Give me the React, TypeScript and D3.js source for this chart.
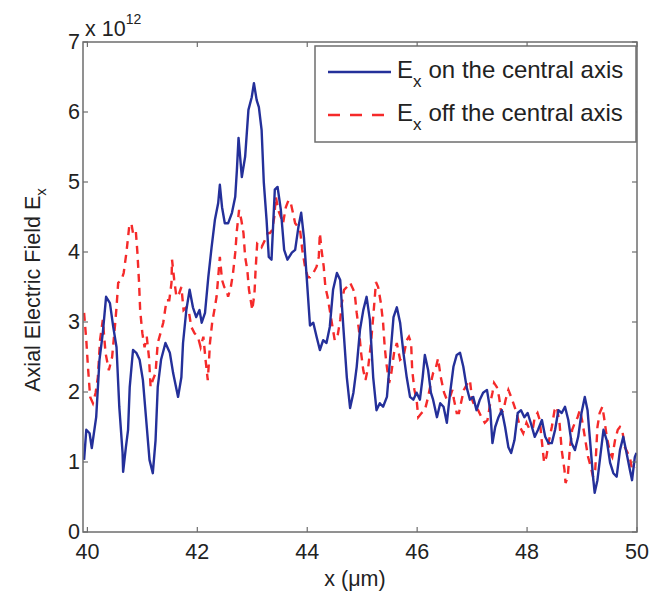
import React from "react";
import * as d3 from "d3";

// on-axis field (blue, solid) – x in µm, y in units of 1e12
const onX = [39.94,39.98,40.04,40.08,40.16,40.22,40.28,40.34,40.41,40.47,40.53,40.58,40.64,40.65,40.70,40.74,40.77,40.83,40.89,40.95,41.01,41.07,41.13,41.19,41.24,41.28,41.34,41.42,41.50,41.56,41.65,41.71,41.74,41.80,41.86,41.92,41.98,42.04,42.08,42.14,42.20,42.26,42.32,42.38,42.41,42.45,42.50,42.56,42.63,42.69,42.72,42.75,42.81,42.87,42.93,42.99,43.03,43.08,43.12,43.17,43.21,43.26,43.30,43.35,43.41,43.46,43.52,43.58,43.64,43.72,43.78,43.84,43.89,43.94,43.99,44.05,44.11,44.17,44.23,44.29,44.35,44.41,44.47,44.54,44.60,44.66,44.72,44.78,44.84,44.90,44.96,45.02,45.08,45.14,45.20,45.26,45.32,45.38,45.45,45.51,45.57,45.63,45.69,45.75,45.81,45.87,45.93,45.99,46.05,46.10,46.14,46.20,46.25,46.29,46.36,46.42,46.48,46.54,46.60,46.66,46.72,46.78,46.84,46.90,46.96,47.02,47.08,47.14,47.20,47.27,47.33,47.37,47.42,47.48,47.54,47.60,47.66,47.71,47.77,47.83,47.89,47.95,48.01,48.07,48.14,48.20,48.27,48.33,48.39,48.45,48.51,48.57,48.63,48.69,48.75,48.81,48.87,48.93,48.99,49.05,49.10,49.14,49.20,49.23,49.28,49.33,49.39,49.45,49.51,49.57,49.63,49.69,49.75,49.81,49.87,49.91,49.96,49.99];
const onY = [1.03,1.46,1.41,1.2,1.64,2.46,2.84,3.36,3.27,2.93,2.64,1.79,1.13,0.86,1.21,1.46,2.07,2.6,2.56,2.46,2.17,1.6,1.03,0.84,1.31,2.07,2.46,2.7,2.56,2.27,1.93,2.21,2.7,3.17,3.46,3.21,3.07,3.17,2.99,3.13,3.64,4.07,4.46,4.7,4.96,4.64,4.41,4.41,4.56,4.79,5.17,5.63,5.07,5.36,6.03,6.21,6.41,6.17,6.07,5.74,4.99,4.46,3.93,3.89,4.89,4.93,4.6,4.03,3.89,3.99,4.03,4.36,4.56,4.21,3.64,2.95,2.99,2.79,2.6,2.74,2.7,2.93,3.46,3.7,3.6,2.89,2.21,1.77,1.99,2.36,2.89,3.17,3.36,3.03,2.21,1.74,1.84,1.79,1.93,2.5,3.07,3.21,2.99,2.56,2.21,1.93,1.89,1.99,1.89,2.21,2.53,2.31,1.99,1.89,1.64,1.84,1.79,1.56,1.99,2.36,2.53,2.56,2.36,2.07,1.89,1.93,1.74,1.89,1.99,2.03,1.74,1.27,1.5,1.64,1.74,1.5,1.21,1.13,1.31,1.7,1.74,1.64,1.7,1.55,1.36,1.46,1.6,1.36,1.27,1.27,1.46,1.74,1.7,1.79,1.6,1.27,1.17,1.36,1.7,1.93,1.74,1.36,0.79,0.56,0.74,1.07,1.46,1.31,0.99,0.84,0.79,1.17,1.36,1.13,0.89,0.74,1.07,1.13];

// off-axis field (red, dashed)
const offX = [39.94,39.98,40.01,40.05,40.10,40.15,40.19,40.23,40.28,40.33,40.39,40.45,40.50,40.53,40.56,40.62,40.66,40.71,40.76,40.80,40.83,40.88,40.91,40.94,40.96,41.00,41.04,41.08,41.12,41.15,41.19,41.24,41.28,41.33,41.38,41.44,41.49,41.53,41.54,41.58,41.62,41.67,41.71,41.75,41.80,41.85,41.89,41.95,42.01,42.06,42.11,42.15,42.19,42.21,42.23,42.27,42.31,42.35,42.38,42.41,42.45,42.49,42.53,42.56,42.61,42.65,42.69,42.72,42.76,42.80,42.84,42.87,42.91,42.94,42.98,43.00,43.04,43.06,43.09,43.12,43.17,43.23,43.28,43.32,43.36,43.40,43.43,43.47,43.52,43.56,43.61,43.66,43.70,43.74,43.78,43.83,43.87,43.91,43.96,44.01,44.05,44.11,44.17,44.21,44.23,44.26,44.30,44.33,44.37,44.41,44.46,44.50,44.55,44.60,44.63,44.67,44.72,44.78,44.84,44.87,44.90,44.94,44.98,45.02,45.06,45.11,45.16,45.20,45.23,45.25,45.29,45.34,45.38,45.41,45.44,45.49,45.53,45.58,45.63,45.69,45.75,45.81,45.85,45.89,45.91,45.95,45.99,46.02,46.08,46.14,46.20,46.25,46.29,46.33,46.38,46.43,46.49,46.54,46.60,46.64,46.67,46.72,46.76,46.81,46.85,46.92,46.96,47.00,47.05,47.11,47.17,47.23,47.28,47.33,47.37,47.40,47.45,47.49,47.53,47.57,47.61,47.66,47.71,47.75,47.81,47.87,47.93,47.99,48.05,48.11,48.14,48.19,48.23,48.26,48.31,48.35,48.40,48.45,48.50,48.54,48.59,48.63,48.68,48.70,48.74,48.78,48.82,48.87,48.92,48.96,49.00,49.05,49.11,49.16,49.20,49.24,49.28,49.32,49.37,49.40,49.45,49.51,49.55,49.60,49.65,49.69,49.73,49.78,49.83,49.87,49.91,49.96];
const offY = [3.13,2.74,2.36,1.93,1.84,1.99,2.21,2.74,3.03,2.56,2.31,2.5,2.93,3.21,3.56,3.6,3.7,3.99,4.36,4.41,4.27,4.31,3.99,3.56,3.17,2.84,2.64,2.79,2.5,2.07,2.17,2.27,2.7,2.84,2.99,3.31,3.31,3.56,3.89,3.6,3.36,3.41,3.5,3.17,3.21,3.13,2.93,2.84,2.79,2.64,2.79,2.46,2.17,2.41,2.7,2.99,3.17,3.36,3.64,3.93,3.6,3.5,3.46,3.36,3.5,3.7,3.99,4.31,4.6,4.46,4.27,3.93,3.74,3.46,3.27,3.17,3.41,3.74,4.13,4.13,4.07,4.17,4.27,4.27,4.31,4.5,4.79,4.6,4.5,4.41,4.64,4.74,4.7,4.56,4.41,4.36,4.31,4.03,3.79,3.64,3.64,3.7,3.79,3.93,4.27,4.03,3.79,3.5,3.36,3.17,2.93,2.74,2.79,3.03,3.27,3.46,3.5,3.56,3.46,3.36,3.13,2.89,2.56,2.31,2.17,2.36,2.7,3.07,3.36,3.57,3.5,3.27,2.99,2.64,2.41,2.13,2.27,2.56,2.7,2.46,2.5,2.74,2.79,2.7,2.31,2.03,1.89,1.64,1.7,1.74,1.93,2.13,2.27,2.31,2.48,2.21,1.99,1.89,1.93,2.03,1.89,1.7,1.7,1.89,2.03,2.13,2.17,1.89,1.79,1.74,1.64,1.56,1.6,1.84,1.99,2.13,2.07,1.93,1.7,1.74,1.89,2.03,1.93,1.84,1.7,1.5,1.41,1.56,1.46,1.5,1.64,1.7,1.6,1.36,0.99,1.07,1.31,1.5,1.74,1.79,1.56,1.17,0.89,0.7,0.79,1.21,1.46,1.56,1.64,1.74,1.6,1.36,1.07,0.93,0.79,0.89,1.5,1.7,1.79,1.64,1.36,1.13,1.07,1.31,1.46,1.5,1.46,1.21,1.13,1.07,0.89,0.93];

const xTicks = [40, 42, 44, 46, 48, 50];
const yTicks = [0, 1, 2, 3, 4, 5, 6, 7];
const legendLabels = ["on the central axis", "off the central axis"];

const W = 664, H = 595;
const L = 83, R = 637, T = 42, B = 532;
const FONT = "'Liberation Sans', Arial, Helvetica, sans-serif";
const AXC = "#6e6e6e";
const BLUE = "#24309a";
const RED = "#f52a2a";

export default function App() {
  const x = d3.scaleLinear().domain([39.92, 50]).range([L, R]);
  const y = d3.scaleLinear().domain([0, 7]).range([B, T]);
  const mk = (xs: number[], ys: number[]) =>
    d3.line<[number, number]>().x(d => x(d[0])).y(d => y(d[1]))(xs.map((v, i) => [v, ys[i]] as [number, number])) || "";
  const tl = 5;
  return (
    <svg width={W} height={H} style={{ position: "absolute", left: 0, top: 0, background: "#fff" }}>
      <defs>
        <clipPath id="pc"><rect x={L} y={T} width={R - L} height={B - T} /></clipPath>
      </defs>
      <g clipPath="url(#pc)">
        <path d={mk(offX, offY)} fill="none" stroke={RED} strokeWidth={2.4} strokeDasharray="8,6" />
        <path d={mk(onX, onY)} fill="none" stroke={BLUE} strokeWidth={2.4} strokeLinejoin="round" />
      </g>
      <rect x={L} y={T} width={R - L} height={B - T} fill="none" stroke={AXC} strokeWidth={1.5} />
      {xTicks.map(t => (
        <g key={"x" + t}>
          <line x1={x(t)} x2={x(t)} y1={B} y2={B - tl} stroke={AXC} strokeWidth={1.2} />
          <line x1={x(t)} x2={x(t)} y1={T} y2={T + tl} stroke={AXC} strokeWidth={1.2} />
          <text x={x(t)} y={559} textAnchor="middle" fontFamily={FONT} fontSize={21.5} fill="#222">{t}</text>
        </g>
      ))}
      {yTicks.map(t => (
        <g key={"y" + t}>
          <line x1={L} x2={L + tl} y1={y(t)} y2={y(t)} stroke={AXC} strokeWidth={1.2} />
          <line x1={R} x2={R - tl} y1={y(t)} y2={y(t)} stroke={AXC} strokeWidth={1.2} />
          <text x={80} y={y(t) + 7} textAnchor="end" fontFamily={FONT} fontSize={21.5} fill="#222">{t}</text>
        </g>
      ))}
      <text x={85} y={36} fontFamily={FONT} fontSize={21.5} fill="#222">x 10<tspan dy={-12} fontSize={14}>12</tspan></text>
      <text x={355} y={586} textAnchor="middle" fontFamily={FONT} fontSize={21.5} fill="#222">x (μm)</text>
      <text transform="translate(40,290) rotate(-90)" textAnchor="middle" fontFamily={FONT} fontSize={21.5} fill="#222">
        Axial Electric Field E<tspan dy={6} fontSize={15}>x</tspan>
      </text>
      <g>
        <rect x={315} y={46} width={321} height={96} fill="#fff" stroke={AXC} strokeWidth={1.5} />
        <line x1={328} x2={391} y1={72} y2={72} stroke={BLUE} strokeWidth={2.4} />
        <line x1={328} x2={391} y1={115} y2={115} stroke={RED} strokeWidth={2.4} strokeDasharray="12,10" />
        {legendLabels.map((lab, i) => (
          <text key={lab} x={397} y={78 + i * 43} fontFamily={FONT} fontSize={24} fill="#222">
            E<tspan dy={9} fontSize={17}>x</tspan><tspan dy={-9} dx={7}>{lab}</tspan>
          </text>
        ))}
      </g>
    </svg>
  );
}
